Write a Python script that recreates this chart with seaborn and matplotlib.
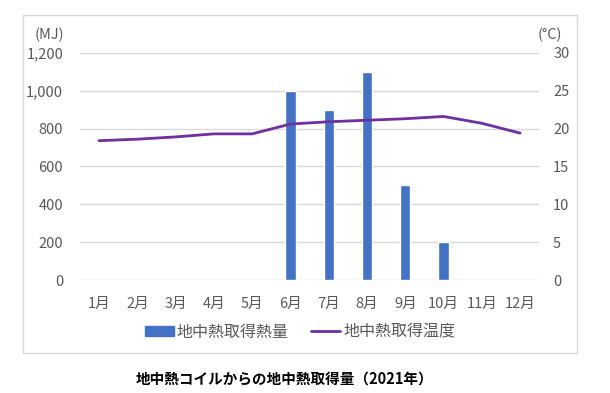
import numpy as np
import pandas as pd
import matplotlib
matplotlib.use("Agg")
import matplotlib.pyplot as plt
import matplotlib.patches as mpatches
import matplotlib.lines as mlines
import seaborn as sns

months = ["1月", "2月", "3月", "4月", "5月", "6月",
          "7月", "8月", "9月", "10月", "11月", "12月"]
heat_mj = [0, 0, 0, 0, 0, 1000, 900, 1100, 500, 200, 0, 0]
temp_c = [18.4, 18.6, 18.9, 19.3, 19.3, 20.6, 20.9, 21.1, 21.3, 21.6, 20.7, 19.4]

bar_label = "地中熱取得熱量"
line_label = "地中熱取得温度"
title = "地中熱コイルからの地中熱取得量（2021年）"

BLUE = "#4472C4"
PURPLE = "#7030A0"
GRID = "#D9D9D9"
TEXT = "#595959"

sns.set_theme(style="white")
plt.rcParams["font.family"] = ["Noto Sans CJK JP", "DejaVu Sans"]

df = pd.DataFrame({"month": months, "heat": heat_mj, "temp": temp_c})

fig = plt.figure(figsize=(6.1, 3.93), dpi=100)
ax = fig.add_axes([0.131, 0.2875, 0.753, 0.578])

sns.barplot(data=df, x="month", y="heat", color=BLUE, width=0.27,
            saturation=1, ax=ax, zorder=3)
ax.set_ylim(0, 1200)
ax.set_yticks(range(0, 1201, 200))
ax.set_yticklabels([f"{v:,}" for v in range(0, 1201, 200)])
ax.yaxis.grid(True, color=GRID, linewidth=1)
ax.set_axisbelow(True)
ax.set_xlabel("")
ax.set_ylabel("")
ax.tick_params(axis="y", length=0, pad=12, labelsize=10.5, labelcolor=TEXT)
ax.tick_params(axis="x", length=0, pad=12, labelsize=10.5, labelcolor=TEXT)
for s in ax.spines.values():
    s.set_visible(False)

ax2 = ax.twinx()
sns.lineplot(x=np.arange(len(months)), y=df["temp"], color=PURPLE,
             linewidth=2, ax=ax2)
ax2.set_ylim(0, 30)
ax2.set_yticks(range(0, 31, 5))
ax2.set_ylabel("")
ax2.tick_params(axis="y", length=0, pad=10, labelsize=10.5, labelcolor=TEXT)
for s in ax2.spines.values():
    s.set_visible(False)
ax.set_xlim(-0.5, len(months) - 0.5)

fig.text(0.057, 0.91, "(MJ)", fontsize=10.5, color=TEXT, ha="left", va="center")
fig.text(0.882, 0.91, "(°C)", fontsize=10.5, color=TEXT, ha="left", va="center")

handles = [mpatches.Patch(color=BLUE, label=bar_label),
           mlines.Line2D([], [], color=PURPLE, linewidth=2, label=line_label)]
fig.legend(handles=handles, loc="center", bbox_to_anchor=(0.492, 0.155),
           ncol=2, frameon=False, fontsize=11.5, labelcolor=TEXT,
           handlelength=1.8, handleheight=0.55, handletextpad=0.2,
           columnspacing=1.4)

fig.patches.append(mpatches.Rectangle((23 / 610, 1 - 353 / 393),
                                      554 / 610, 338 / 393,
                                      transform=fig.transFigure,
                                      fill=False, edgecolor=GRID, linewidth=1))

fig.text(0.467, 0.038, title, fontsize=10.5, fontweight="bold", color="black",
         ha="center", va="center")

fig.savefig("out.png", dpi=100)
